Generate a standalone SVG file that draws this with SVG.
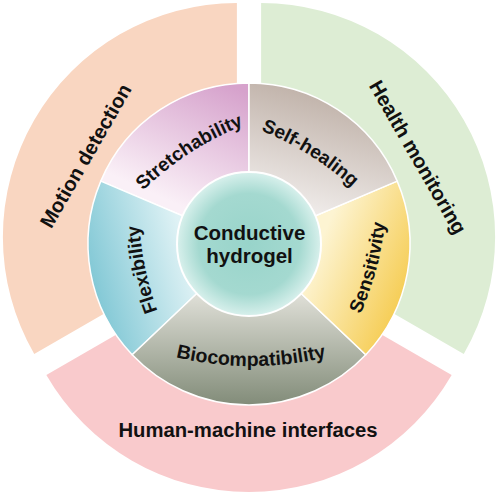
<svg xmlns="http://www.w3.org/2000/svg" width="500" height="497" viewBox="0 0 500 497">
<defs>
<style>
.lbl{font-family:"Liberation Sans",Arial,sans-serif;font-weight:bold;fill:#111;}
.outer{font-size:20.3px;}
.ring{font-size:19px;}
.core{font-size:20.5px;}
.seg{stroke:#fff;stroke-width:1.5;stroke-linejoin:round;}
</style>
<linearGradient id="gStretch" gradientUnits="userSpaceOnUse" x1="232" y1="86" x2="178" y2="205"><stop offset="0" stop-color="#D6A2CC"/><stop offset="1" stop-color="#FAF0F7"/></linearGradient>
<linearGradient id="gSelf" gradientUnits="userSpaceOnUse" x1="330" y1="95" x2="298" y2="208"><stop offset="0" stop-color="#C0B2A9"/><stop offset="1" stop-color="#EFEBE9"/></linearGradient>
<linearGradient id="gSens" gradientUnits="userSpaceOnUse" x1="408" y1="275" x2="322" y2="238"><stop offset="0" stop-color="#F6CF5B"/><stop offset="1" stop-color="#FDF4D2"/></linearGradient>
<linearGradient id="gBio" gradientUnits="userSpaceOnUse" x1="249" y1="405" x2="249" y2="296"><stop offset="0" stop-color="#828C79"/><stop offset="1" stop-color="#DEDED6"/></linearGradient>
<linearGradient id="gFlex" gradientUnits="userSpaceOnUse" x1="88" y1="262" x2="182" y2="236"><stop offset="0" stop-color="#84C9D6"/><stop offset="1" stop-color="#DFF2F5"/></linearGradient>
<radialGradient id="gCore" cx="249" cy="244" r="72" gradientUnits="userSpaceOnUse"><stop offset="0" stop-color="#98D4CA"/><stop offset="0.7" stop-color="#A4D9D0"/><stop offset="1" stop-color="#D8F0EC"/></radialGradient>
<path id="pStretch" d="M122.94,212.52 A300 300 0 0 1 271.66,115.96"/>
<path id="pSelf" d="M226.72,119.38 A300 300 0 0 1 377.08,213.34"/>
<path id="pBio" d="M162.1,353.8 A330 330 0 0 0 339.9,353.8"/>
<path id="pSens" d="M340.41,351.57 A300 300 0 0 0 386.31,180.29"/>
<path id="pFlex" d="M176.94,352.83 A300 300 0 0 1 140.08,179.39"/>
</defs>

<g id="motion-detection">
<path d="M236.88,3 A234 234 0 0 0 34.23,354 L115.64,307 A140 140 0 0 1 236.88,97 Z" fill="#F9D6C1"/>
<text class="lbl outer" text-anchor="middle" transform="translate(91.7,159.3) rotate(-60)">Motion detection</text>
</g>
<g id="health-monitoring">
<path d="M261.12,3 A234 234 0 0 1 463.77,354 L382.36,307 A140 140 0 0 0 261.12,97 Z" fill="#DDEDD4"/>
<text class="lbl outer" text-anchor="middle" transform="translate(411.8,160.7) rotate(60)">Health monitoring</text>
</g>
<g id="human-machine-interfaces">
<path d="M46.35,375 A234 234 0 0 0 451.65,375 L370.24,328 A140 140 0 0 1 127.76,328 Z" fill="#F9CACC"/>
<text class="lbl outer" x="248" y="437" text-anchor="middle">Human-machine interfaces</text>
</g>

<g id="stretchability">
<path class="seg" d="M249,244 L249,83 A161 161 0 0 0 100.8,181.1 Z" fill="url(#gStretch)"/>
<text class="lbl ring"><textPath href="#pStretch" startOffset="50%" text-anchor="middle">Stretchability</textPath></text>
</g>
<g id="flexibility">
<path class="seg" d="M249,244 L100.8,181.1 A161 161 0 0 0 132.2,354.8 Z" fill="url(#gFlex)"/>
<text class="lbl ring"><textPath href="#pFlex" startOffset="50%" text-anchor="middle">Flexibility</textPath></text>
</g>
<g id="biocompatibility">
<path class="seg" d="M249,244 L132.2,354.8 A161 161 0 0 0 365.8,354.8 Z" fill="url(#gBio)"/>
<text class="lbl ring" style="font-size:19.5px"><textPath href="#pBio" startOffset="50%" text-anchor="middle">Biocompatibility</textPath></text>
</g>
<g id="sensitivity">
<path class="seg" d="M249,244 L365.8,354.8 A161 161 0 0 0 397.2,181.1 Z" fill="url(#gSens)"/>
<text class="lbl ring"><textPath href="#pSens" startOffset="50%" text-anchor="middle">Sensitivity</textPath></text>
</g>
<g id="self-healing">
<path class="seg" d="M249,244 L397.2,181.1 A161 161 0 0 0 249,83 Z" fill="url(#gSelf)"/>
<text class="lbl ring"><textPath href="#pSelf" startOffset="50%" text-anchor="middle">Self-healing</textPath></text>
</g>

<g id="conductive-hydrogel">
<circle cx="249" cy="244" r="72" fill="url(#gCore)" stroke="#fff" stroke-width="2"/>
<text class="lbl core" x="249.5" y="240" text-anchor="middle">Conductive</text>
<text class="lbl core" x="249.5" y="262.5" text-anchor="middle">hydrogel</text>
</g>

<g id="connectors"/>
</svg>
